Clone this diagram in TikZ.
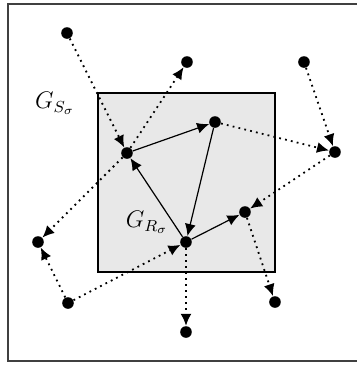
\documentclass[tikz,border=0pt]{standalone}
\usepackage{amsmath,amssymb}
\usepackage{xcolor}
\usetikzlibrary{arrows.meta,positioning,calc}

\begin{document}
\begin{tikzpicture}[
    x=0.5pt,y=-0.5pt,
    every node/.style={font=\large},
    vert/.style={
        circle,fill=black,inner sep=0pt,minimum size=5.8pt
    },
    inner/.style={-{Latex[length=6pt,width=5.5pt]},line width=0.6pt},
    outer/.style={-{Latex[length=6pt,width=5.5pt]},line width=0.9pt,
        dash pattern=on 0.9pt off 2.1pt}
]
\useasboundingbox (0,0) rectangle (357,366);
\draw[line width=0.7pt,black!75] (8,4) rectangle (370,361);
\draw[line width=0.6pt,fill=black!9] (98,93) rectangle (275,272);
\node[vert] (v1) at (67,33) {};
\node[vert] (v2) at (187,62) {};
\node[vert] (v3) at (304,62) {};
\node[vert] (v4) at (215,122) {};
\node[vert] (v5) at (335,152) {};
\node[vert] (v6) at (127,153) {};
\node[vert] (v7) at (186,242) {};
\node[vert] (v8) at (245,212) {};
\node[vert] (v9) at (38,242) {};
\node[vert] (v10) at (68,303) {};
\node[vert] (v11) at (275,302) {};
\node[vert] (v12) at (186,332) {};
\node (gs) at (55,103) {$G_{S_\sigma}$};
\node (gr) at (147,222) {$G_{R_\sigma}$};
\draw[inner] (v6) -- (v4);
\draw[inner] (v4) -- (v7);
\draw[inner] (v7) -- (v6);
\draw[inner] (v7) -- (v8);
\draw[outer] (v1) -- (v6);
\draw[outer] (v6) -- (v2);
\draw[outer] (v6) -- (v9);
\draw[outer] (v10) -- (v9);
\draw[outer] (v10) -- (v7);
\draw[outer] (v4) -- (v5);
\draw[outer] (v3) -- (v5);
\draw[outer] (v5) -- (v8);
\draw[outer] (v8) -- (v11);
\draw[outer] (v7) -- (v12);
\end{tikzpicture}
\end{document}
